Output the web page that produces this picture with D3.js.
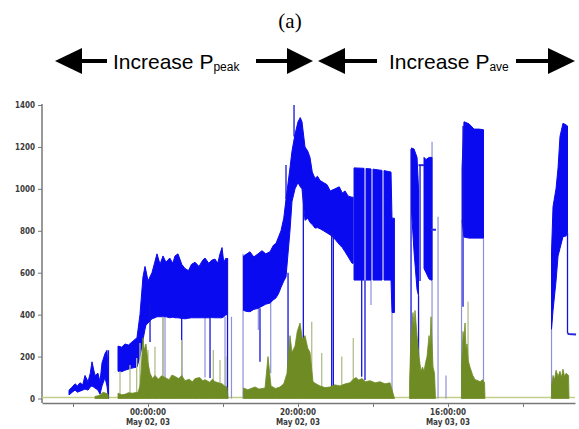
<!DOCTYPE html>
<html>
<head>
<meta charset="utf-8">
<script src="https://cdn.jsdelivr.net/npm/d3@7"></script>
<style>
  body { margin: 0; background: #fff; }
  .axis text { font-family: 'DejaVu Sans Condensed', 'DejaVu Sans', sans-serif; font-weight: bold; font-size: 8px; fill: #3a3a3a; }
  .axis line, .axis path { stroke: #777; }
</style>
</head>
<body>
<svg class="chart" width="579" height="429"></svg>
<script>
// hours after May 02, 03 00:00:00
var yTicks = [0, 200, 400, 600, 800, 1000, 1200, 1400];
var xTicks = [-10, 0, 10, 20, 30, 40, 50];
var xLabelTicks = [0, 20, 40];

// blue runs: [hour, low, high]
var blueA = [[-10.53, 17, 40], [-10.1, 30, 55], [-9.73, 40, 70], [-9.4, 30, 60], [-9.07, 35, 75],
  [-8.7, 40, 65], [-8.4, 45, 110], [-8.0, 40, 80], [-7.7, 55, 120], [-7.47, 60, 175], [-7.07, 50, 110],
  [-6.67, 40, 120], [-6.4, 20, 80], [-6.13, 60, 170], [-5.73, 100, 215], [-5.47, 60, 230], [-5.27, 0, 100]];
var blueB = [[-4.0, 130, 250], [-3.5, 128, 245], [-3.07, 135, 260], [-2.6, 140, 255], [-2.13, 145, 270],
  [-1.47, 150, 290], [-1.07, 200, 400], [-0.67, 280, 580], [-0.4, 330, 630], [-0.27, 350, 610],
  [0, 360, 560], [0.53, 380, 600], [0.9, 385, 650], [1.2, 390, 690], [1.6, 390, 640], [2.0, 390, 680],
  [2.4, 390, 650], [2.9, 385, 670], [3.3, 388, 645], [3.6, 385, 680], [4.0, 385, 690], [4.5, 382, 640],
  [4.93, 380, 620], [5.4, 383, 610], [5.8, 385, 640], [6.27, 385, 650], [6.8, 385, 630], [7.3, 385, 660],
  [7.6, 385, 670], [8.1, 385, 645], [8.5, 386, 660], [8.93, 385, 665], [9.3, 385, 645], [9.6, 385, 690],
  [9.87, 385, 720], [10.1, 390, 650], [10.4, 400, 670], [10.6, 400, 660]];
var blueC = [[12.73, 420, 680], [13.2, 415, 690], [13.6, 414, 700], [14.1, 425, 675], [14.67, 430, 690],
  [15.2, 440, 705], [15.7, 450, 690], [16.27, 455, 700], [16.7, 470, 730], [17.07, 480, 740],
  [17.4, 500, 770], [17.73, 530, 800], [18.1, 560, 860], [18.4, 580, 950], [18.93, 800, 1100],
  [19.2, 940, 1180], [19.6, 1000, 1260], [20.0, 1030, 1320], [20.3, 1010, 1340], [20.53, 1000, 1320],
  [20.93, 850, 1200], [21.3, 860, 1180], [21.6, 840, 1150], [21.9, 830, 1080], [22.27, 813, 1050],
  [22.6, 815, 1060], [22.93, 810, 1040], [23.4, 800, 1030], [23.87, 790, 1020], [24.3, 780, 990],
  [24.93, 760, 1000], [25.5, 735, 1010], [25.9, 720, 980], [26.27, 700, 990], [26.7, 675, 965],
  [27.2, 645, 960], [27.35, 645, 960]];
var blueC2 = [[27.47, 565, 1100], [28.8, 565, 1098]];
var blueC3 = [[29.07, 565, 1097], [29.73, 565, 1095]];
var blueC4 = [[30.0, 565, 1094], [31.2, 565, 1088]];
var blueC5 = [[31.47, 565, 1087], [32.4, 565, 1080], [32.53, 410, 860], [32.85, 410, 860]];
var blueD1 = [[35.13, 900, 1195], [35.47, 700, 1190], [35.87, 520, 1150], [36.07, 490, 1000]];
var blueD2 = [[36.8, 620, 1150], [37.07, 600, 1140], [37.47, 570, 1150], [37.73, 565, 1150], [37.87, 565, 1150]];
var blueE = [[41.87, 850, 1100], [42.13, 770, 1320], [42.8, 765, 1310], [43.47, 765, 1285],
  [44.13, 765, 1285], [44.73, 765, 1282]];
var blueF = [[53.8, 330, 700], [54.0, 420, 915], [54.4, 560, 1000], [54.67, 680, 1100], [54.93, 716, 1250],
  [55.33, 772, 1313], [55.73, 775, 1305], [55.93, 790, 1300]];
var blueTail = [[55.93, 311], [56.1, 308], [57.07, 305]];
var blueStep = [[37.73, 805], [38.4, 805]];
var blueBridge = [[36.07, 1113], [36.8, 1113]];

// vertical drops: [hour, from, to]
var blueSpikes = [[-5.27, 230, 0], [0.27, 450, 270], [4.49, 390, 104], [8.27, 390, 98], [10.6, 670, 0],
  [14.93, 430, 175], [18.67, 600, 88], [18.4, 950, 1114], [19.47, 1250, 1400], [20.71, 1000, 231],
  [24.49, 800, 56], [24.71, 780, 50], [28.49, 565, 104], [28.93, 565, 88], [35.07, 1190, 0],
  [36.07, 490, 60], [36.27, 1113, 560], [42.0, 1300, 438], [55.93, 790, 311]];
var lilacSpikes = [[2.0, 390, 74], [2.27, 390, 74], [7.6, 390, 100], [10.27, 390, 0], [11.13, 390, 0],
  [12.67, 690, 0], [14.71, 600, 327], [16.36, 560, 121], [29.73, 565, 446], [32.53, 410, 0],
  [37.87, 1225, 0], [38.67, 867, 0], [39.73, 110, 0], [41.8, 850, 0], [44.73, 765, 0], [53.8, 330, 0]];

// green runs: [hour, high] from zero
var greenA = [[-7.07, 10], [-6.4, 15], [-6.0, 30], [-5.6, 25], [-5.33, 20], [-5.27, 0]];
var greenB = [[-4.0, 25], [-3.5, 18], [-3.07, 20], [-2.6, 28], [-2.13, 25], [-1.33, 30], [-1.07, 60],
  [-0.93, 120], [-0.8, 210], [-0.67, 290], [-0.5, 230], [-0.27, 260], [0, 170], [0.27, 120], [0.6, 95],
  [0.93, 110], [1.4, 92], [1.8, 108], [2.27, 100], [2.8, 90], [3.2, 112], [3.6, 105], [4.1, 95],
  [4.5, 110], [4.93, 85], [5.5, 92], [5.9, 80], [6.27, 95], [6.9, 100], [7.3, 85], [7.6, 90],
  [8.2, 78], [8.6, 92], [8.93, 80], [9.4, 75], [9.87, 70], [10.2, 60], [10.53, 55], [10.67, 0]];
var greenC = [[12.73, 50], [13.3, 42], [14.27, 55], [14.8, 45], [15.6, 50], [16.0, 200], [16.4, 60],
  [17.0, 48], [17.6, 55], [18.1, 70], [18.53, 120], [18.93, 300], [19.2, 220], [19.6, 250], [19.9, 320],
  [20.27, 360], [20.6, 280], [20.93, 300], [21.3, 240], [21.6, 220], [22.0, 80], [22.4, 70], [22.93, 60],
  [23.6, 52], [24.27, 55], [24.9, 65], [25.6, 60], [26.3, 70], [26.93, 75], [27.3, 90], [27.73, 100],
  [28.1, 88], [28.53, 95], [29.0, 80], [29.6, 85], [30.3, 75], [30.93, 80], [31.6, 70], [32.27, 75], [32.87, 0]];
var greenD = [[34.87, 80], [35.07, 300], [35.2, 360], [35.33, 410], [35.47, 340], [35.6, 420], [35.87, 300],
  [36.13, 200], [36.4, 130], [36.6, 150], [36.8, 130], [37.0, 170], [37.2, 200], [37.47, 300], [37.6, 250],
  [37.73, 390], [38.0, 150], [38.2, 120], [38.33, 0]];
var greenE = [[41.8, 150], [42.0, 320], [42.13, 280], [42.27, 360], [42.4, 230], [42.53, 260], [42.7, 180],
  [42.93, 150], [43.3, 110], [43.6, 90], [44.0, 85], [44.27, 80], [44.6, 90], [44.87, 75], [44.93, 0]];
var greenF = [[53.8, 60], [54.0, 110], [54.2, 90], [54.4, 135], [54.67, 105], [54.93, 130], [55.13, 100],
  [55.33, 140], [55.53, 105], [55.73, 120], [56.07, 110], [56.13, 0]];
var greenSpikes = [[-3.73, 130], [-2.4, 160], [-1.51, 193], [-1.07, 265], [0, 231], [0.93, 247], [2.0, 390],
  [4.49, 279], [8.71, 231], [9.6, 184], [10.4, 200], [21.83, 366], [23.16, 217], [25.83, 200],
  [27.37, 289], [42.67, 462]];

(function() {
  'use strict';
  var base = Date.UTC(2003, 4, 2);
  function t(h) { return new Date(base + h * 3600e3); }

  var svg = d3.select('.chart');

  var x = d3.scaleUtc()
    .domain([t(-14.133), t(56.93)])
    .range([42, 575]);

  var y = d3.scaleLinear()
    .domain([0, 1400])
    .range([398.5, 105]);

  // title and arrows
  svg.append('text')
    .attr('x', 290).attr('y', 28)
    .attr('text-anchor', 'middle')
    .style('font-family', 'Liberation Serif, Times New Roman, serif')
    .style('font-size', '21px')
    .text('(a)');

  function arrow(tip, base, tail) {
    svg.append('rect')
      .attr('x', Math.min(base, tail)).attr('y', 59)
      .attr('width', Math.abs(tail - base)).attr('height', 4)
      .attr('fill', '#000');
    svg.append('path')
      .attr('d', 'M' + tip + ',61L' + base + ',48L' + base + ',74Z')
      .attr('fill', '#000');
  }
  arrow(55, 82, 107);
  arrow(313, 287, 256);
  arrow(318, 345, 377);
  arrow(575, 548, 516);

  function heading(x0, sub) {
    var txt = svg.append('text')
      .attr('x', x0).attr('y', 69)
      .style('font-family', 'Liberation Sans, Arial, sans-serif')
      .style('font-size', '21px')
      .text('Increase P');
    txt.append('tspan')
      .attr('dy', 2)
      .style('font-size', '12px')
      .text(sub);
  }
  heading(113, 'peak');
  heading(389, 'ave');

  // axes
  svg.append('line')
    .attr('x1', 42).attr('x2', 42)
    .attr('y1', y(1400) - 1).attr('y2', 403)
    .attr('stroke', '#777').attr('stroke-width', 1.5);

  var yAxis = svg.append('g')
    .attr('class', 'axis')
    .attr('transform', 'translate(42,0)')
    .call(d3.axisLeft(y).tickValues(yTicks).tickSize(4).tickPadding(3).tickFormat(d3.format('d')));
  yAxis.select('.domain').remove();

  var xAxis = svg.append('g')
    .attr('class', 'axis')
    .attr('transform', 'translate(0,403)')
    .call(d3.axisBottom(x).tickValues(xTicks.map(t)).tickSize(4).tickSizeOuter(0)
      .tickFormat(function() { return ''; }));
  xAxis.select('.domain').attr('stroke-width', 1.5);

  var fmtTime = d3.utcFormat('%H:%M:%S');
  var fmtDay = d3.utcFormat('%b %d, %y');
  var lab = svg.append('g').attr('class', 'axis')
    .selectAll('text')
    .data(xLabelTicks.map(t))
    .enter().append('text')
      .attr('text-anchor', 'middle')
      .attr('x', function(d) { return x(d); })
      .attr('y', 415);
  lab.append('tspan').text(function(d) { return fmtTime(d); });
  lab.append('tspan')
    .attr('x', function(d) { return x(d); })
    .attr('dy', 10)
    .text(function(d) { return fmtDay(d); });

  // baseline
  svg.append('line')
    .attr('x1', x(t(-14.133))).attr('x2', x(t(56.93)))
    .attr('y1', y(5)).attr('y2', y(5))
    .attr('stroke', '#c2cd86').attr('stroke-width', 1.5);

  var plot = svg.append('g');

  function spikes(data, color, width) {
    plot.selectAll(null)
      .data(data)
      .enter().append('line')
        .attr('x1', function(d) { return x(t(d[0])); })
        .attr('x2', function(d) { return x(t(d[0])); })
        .attr('y1', function(d) { return y(d[1]); })
        .attr('y2', function(d) { return y(d[2]); })
        .attr('stroke', color)
        .attr('stroke-width', width);
  }

  spikes(lilacSpikes, '#8e90d8', 1.2);

  var blueArea = d3.area()
    .x(function(d) { return x(t(d[0])); })
    .y0(function(d) { return y(d[1]); })
    .y1(function(d) { return y(d[2]); });

  [blueA, blueB, blueC, blueC2, blueC3, blueC4, blueC5, blueD1, blueD2, blueE, blueF].forEach(function(run) {
    plot.append('path')
      .attr('d', blueArea(run))
      .attr('fill', '#0a0af0')
      .attr('stroke', '#0a0af0')
      .attr('stroke-width', 1);
  });

  var line = d3.line()
    .x(function(d) { return x(t(d[0])); })
    .y(function(d) { return y(d[1]); });

  [blueTail, blueStep, blueBridge].forEach(function(run) {
    plot.append('path')
      .attr('d', line(run))
      .attr('fill', 'none')
      .attr('stroke', '#2a2ad8')
      .attr('stroke-width', 2);
  });

  spikes(blueSpikes, '#1414d8', 1.3);

  spikes(greenSpikes.map(function(d) { return [d[0], d[1], 0]; }), '#b3bd8a', 1.3);

  var greenArea = d3.area()
    .x(function(d) { return x(t(d[0])); })
    .y0(y(0))
    .y1(function(d) { return y(d[1]); });

  [greenA, greenB, greenC, greenD, greenE, greenF].forEach(function(run) {
    plot.append('path')
      .attr('d', greenArea(run))
      .attr('fill', '#6f8c24')
      .attr('stroke', '#6f8c24')
      .attr('stroke-width', 0.8);
  });
}());
</script>
</body>
</html>
